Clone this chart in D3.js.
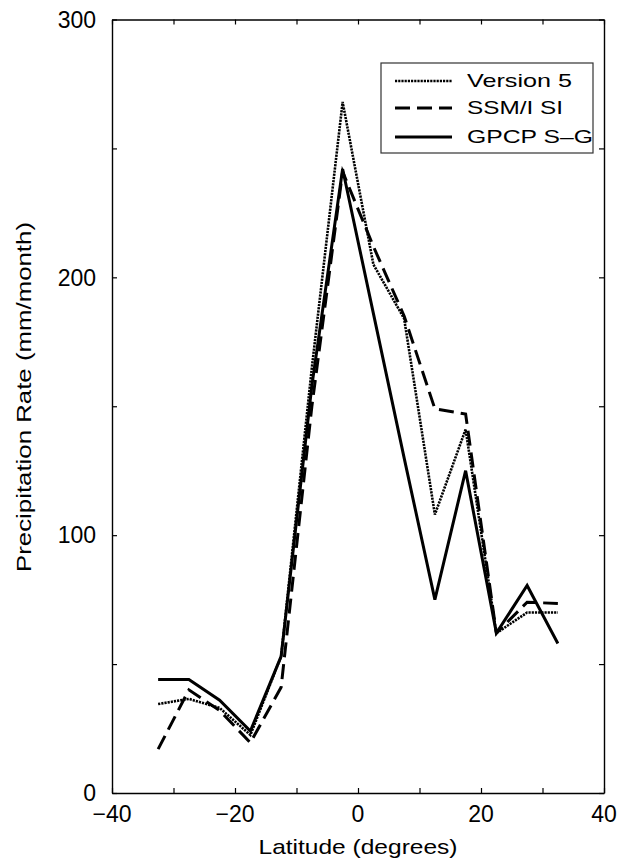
<!DOCTYPE html>
<html>
<head>
<meta charset="utf-8">
<script src="https://cdn.jsdelivr.net/npm/d3@7"></script>
<style>
  html, body { margin: 0; padding: 0; background: #fff; }
  svg { display: block; }
  text { font-family: "Liberation Sans", Arial, Helvetica, sans-serif; fill: #000; }
</style>
</head>
<body>
<svg id="chart" width="629" height="860"></svg>
<script>
// Zonal-mean precipitation, 5-degree latitude bands
const latitudes = [-32.5, -27.5, -22.5, -17.5, -12.5, -7.5, -2.5, 2.5, 7.5, 12.5, 17.5, 22.5, 27.5, 32.5];
const version5  = [34.5, 36.5, 33, 22.5, 53, 165, 268, 205, 184, 108, 141, 62, 70, 70];
const ssmiSI    = [17, 40, 32, 19.5, 41, 150, 241, 212, 185, 149, 147, 62, 74, 73.5];
const gpcpSG    = [44, 44, 36, 24, 53, 158, 242, 186, 130, 75, 125, 62, 80.5, 58];

const seriesNames = ["Version 5", "SSM/I SI", "GPCP S\u2013G"];
const xTicks = [-40, -30, -20, -10, 0, 10, 20, 30, 40];
const xLabels = [-40, -20, 0, 20, 40];
const yTicks = [0, 50, 100, 150, 200, 250, 300];
const yLabels = [0, 100, 200, 300];

const svg = d3.select("#chart");
const x = d3.scaleLinear().domain([-40, 40]).range([112, 604]);
const y = d3.scaleLinear().domain([0, 300]).range([793, 19.5]);

const styles = [
  { width: 2.6, dash: "2.2,1" },
  { width: 3, dash: "15,7" },
  { width: 3, dash: null }
];
const series = [version5, ssmiSI, gpcpSG];

// Series lines
const line = d3.line().x((d, i) => x(latitudes[i])).y(d => y(d));
series.forEach((vals, k) => {
  svg.append("path")
    .datum(vals)
    .attr("d", line)
    .attr("fill", "none")
    .attr("stroke", "#000")
    .attr("stroke-width", styles[k].width)
    .attr("stroke-linejoin", "miter")
    .attr("stroke-dasharray", styles[k].dash);
});

// Axes with inward ticks on all four sides
const tickLen = 5;
const fmt = d3.format("");
const axisBottomG = svg.append("g").attr("transform", `translate(0,${y(0)})`)
  .call(d3.axisBottom(x).tickValues(xTicks).tickSizeInner(-tickLen).tickSizeOuter(0).tickFormat(""));
const axisTopG = svg.append("g").attr("transform", `translate(0,${y(300)})`)
  .call(d3.axisTop(x).tickValues(xTicks).tickSizeInner(-tickLen).tickSizeOuter(0).tickFormat(""));
const axisLeftG = svg.append("g").attr("transform", `translate(${x(-40)},0)`)
  .call(d3.axisLeft(y).tickValues(yTicks).tickSizeInner(-tickLen).tickSizeOuter(0).tickFormat(""));
const axisRightG = svg.append("g").attr("transform", `translate(${x(40)},0)`)
  .call(d3.axisRight(y).tickValues(yTicks).tickSizeInner(-tickLen).tickSizeOuter(0).tickFormat(""));
[axisBottomG, axisTopG, axisLeftG, axisRightG].forEach(g => {
  g.selectAll("path.domain").attr("stroke", "#000").attr("stroke-width", 1.4);
  g.selectAll(".tick line").attr("stroke", "#000").attr("stroke-width", 1.2);
});

// Tick labels
svg.append("g").selectAll("text").data(xLabels).join("text")
  .attr("x", d => x(d)).attr("y", 822)
  .attr("text-anchor", "middle")
  .attr("font-size", 23)
  .text(d => fmt(d).replace("-", "\u2212"));
svg.append("g").selectAll("text").data(yLabels).join("text")
  .attr("x", 96).attr("y", d => y(d))
  .attr("dy", "0.36em")
  .attr("text-anchor", "end")
  .attr("font-size", 23)
  .text(d => fmt(d));

// Axis titles (wide face: glyphs stretched to the set length)
svg.append("text")
  .attr("x", 358).attr("y", 854)
  .attr("text-anchor", "middle")
  .attr("font-size", 21)
  .attr("textLength", 199).attr("lengthAdjust", "spacingAndGlyphs")
  .text("Latitude (degrees)");
svg.append("text")
  .attr("transform", "translate(31,397) rotate(-90)")
  .attr("text-anchor", "middle")
  .attr("font-size", 21)
  .attr("textLength", 350).attr("lengthAdjust", "spacingAndGlyphs")
  .text("Precipitation Rate (mm/month)");

// Legend
const legend = svg.append("g");
legend.append("rect")
  .attr("x", 381).attr("y", 63).attr("width", 212).attr("height", 90)
  .attr("fill", "#fff").attr("stroke", "#333").attr("stroke-width", 1.2);
const rowY = [81, 108, 137];
const textLens = [105, 96, 126];
seriesNames.forEach((name, k) => {
  legend.append("line")
    .attr("x1", 395).attr("x2", 452).attr("y1", rowY[k]).attr("y2", rowY[k])
    .attr("stroke", "#000")
    .attr("stroke-width", styles[k].width)
    .attr("stroke-dasharray", styles[k].dash);
  legend.append("text")
    .attr("x", 467).attr("y", rowY[k] + 5.5)
    .attr("font-size", 19)
    .attr("textLength", textLens[k]).attr("lengthAdjust", "spacingAndGlyphs")
    .text(name);
});
</script>
</body>
</html>
